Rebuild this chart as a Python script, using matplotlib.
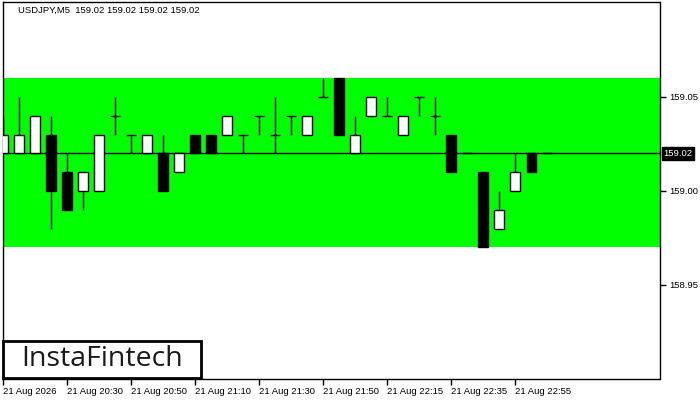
import numpy as np
import matplotlib
matplotlib.use('Agg')
import matplotlib.pyplot as plt

# USDJPY M5 candles
opens  = [159.02, 159.02, 159.02, 159.03, 159.01, 159.00, 159.00, 159.04, 159.03, 159.02,
          159.02, 159.01, 159.03, 159.03, 159.03, 159.03, 159.04, 159.03, 159.04, 159.03,
          159.05, 159.06, 159.02, 159.04, 159.04, 159.03, 159.05, 159.04, 159.03, 159.02,
          159.01, 158.98, 159.00, 159.02, 159.02]
highs  = [159.04, 159.05, 159.04, 159.04, 159.02, 159.01, 159.03, 159.05, 159.03, 159.03,
          159.03, 159.02, 159.03, 159.03, 159.04, 159.03, 159.04, 159.05, 159.04, 159.04,
          159.06, 159.06, 159.04, 159.05, 159.05, 159.04, 159.05, 159.05, 159.03, 159.02,
          159.01, 159.00, 159.02, 159.02, 159.02]
lows   = [159.02, 159.02, 159.02, 158.98, 158.99, 158.99, 159.00, 159.03, 159.02, 159.02,
          159.00, 159.01, 159.02, 159.02, 159.03, 159.02, 159.03, 159.02, 159.03, 159.03,
          159.05, 159.03, 159.02, 159.04, 159.04, 159.03, 159.04, 159.03, 159.01, 159.02,
          158.97, 158.98, 159.00, 159.01, 159.02]
closes = [159.03, 159.03, 159.04, 159.00, 158.99, 159.01, 159.03, 159.04, 159.03, 159.03,
          159.00, 159.02, 159.02, 159.02, 159.04, 159.03, 159.04, 159.03, 159.04, 159.04,
          159.05, 159.03, 159.03, 159.05, 159.04, 159.04, 159.05, 159.04, 159.01, 159.02,
          158.97, 158.99, 159.01, 159.01, 159.02]

zone_low, zone_high = 158.97, 159.06
last_price = 159.02

time_labels = ['21 Aug 2026', '21 Aug 20:30', '21 Aug 20:50', '21 Aug 21:10', '21 Aug 21:30',
               '21 Aug 21:50', '21 Aug 22:15', '21 Aug 22:35', '21 Aug 22:55']
time_label_bars = [0, 4, 8, 12, 16, 20, 24, 28, 32]
price_ticks = [158.95, 159.00, 159.05]

plt.rcParams['font.family'] = ['Liberation Sans', 'DejaVu Sans']

fig = plt.figure(figsize=(7, 4), dpi=100)
ax = fig.add_axes([3/700, 21/400, 656.5/700, 377/400])

x = np.arange(len(opens))
o = np.array(opens)
c = np.array(closes)
h = np.array(highs)
l = np.array(lows)

# green zone
ax.axhspan(zone_low, zone_high, color='#00ff00', lw=0, zorder=0)
# current price line (behind candles)
ax.axhline(last_price, color='black', lw=1, zorder=1)

# wicks
ax.vlines(x, l, h, color='black', lw=1, zorder=2)
# bodies
bull = c >= o
body_bottom = np.minimum(o, c)
body_h = np.abs(c - o)
ax.bar(x[bull], body_h[bull], bottom=body_bottom[bull], width=0.62,
       facecolor='white', edgecolor='black', lw=1, zorder=3)
ax.bar(x[~bull], body_h[~bull], bottom=body_bottom[~bull], width=0.62,
       facecolor='black', edgecolor='black', lw=1, zorder=3)

ax.set_xlim(-0.02, 41.0)
ax.set_ylim(158.90, 159.1005)

for s in ax.spines.values():
    s.set_color('black')
    s.set_linewidth(1)

ax.yaxis.tick_right()
ax.set_yticks(price_ticks)
ax.set_yticklabels([f'{v:.2f}' for v in price_ticks])
ax.set_xticks(time_label_bars)
ax.set_xticklabels(time_labels, ha='left')
ax.tick_params(axis='both', direction='out', length=4, width=1, labelsize=6.8, colors='black', pad=2)
ax.tick_params(axis='y', pad=3)

# current price tag
ax.text(1.006, last_price, f'{last_price:.2f}', transform=ax.get_yaxis_transform(),
        ha='left', va='center', fontsize=6.8, color='white',
        bbox=dict(boxstyle='square,pad=0.2', facecolor='black', edgecolor='black'),
        clip_on=False)

# header
fig.text(18/700, 1 - 10/400, 'USDJPY,M5  159.02 159.02 159.02 159.02',
         ha='left', va='center', fontsize=6.8, color='black')

# logo box
fig.patches.append(plt.Rectangle((3/700, 22/400), 198/700, 37/400, transform=fig.transFigure,
                                 facecolor='white', edgecolor='black', lw=2, zorder=5))
fig.text(102/700, 40.5/400, 'InstaFintech', ha='center', va='center', fontsize=20.5,
         family=['Open Sans', 'DejaVu Sans'], weight='medium', color='#1a1a1a', zorder=6)

fig.savefig('out.png', dpi=100)
